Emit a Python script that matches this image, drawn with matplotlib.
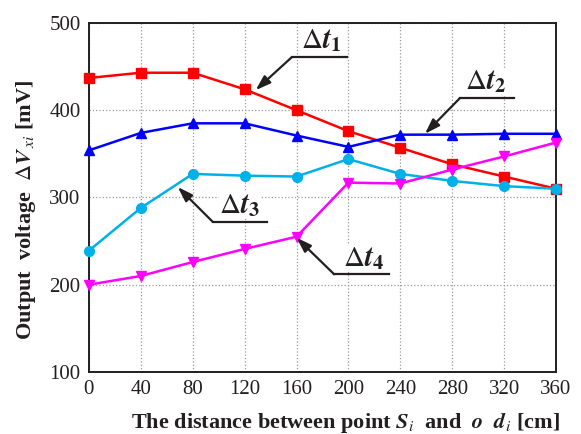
import numpy as np
import matplotlib
matplotlib.use("Agg")
import matplotlib.pyplot as plt

plt.rcParams['font.family'] = ['Liberation Serif', 'DejaVu Serif']
plt.rcParams['mathtext.fontset'] = 'stix'

# data
distance = [0, 40, 80, 120, 160, 200, 240, 280, 320, 360]
dt1 = [437, 443, 443, 424, 400, 376, 357, 338, 324, 310]
dt2 = [354, 374, 385, 385, 371, 358, 372, 372, 373, 373]
dt3 = [239, 288, 327, 325, 324, 344, 327, 319, 313, 310]
dt4 = [200, 210, 226, 241, 255, 317, 316, 332, 347, 363]

series = [
    (dt1, '#ff0000', 's'),
    (dt2, '#0000ff', '^'),
    (dt3, '#00b0e8', 'o'),
    (dt4, '#ff00ff', 'v'),
]

# (label, arrow tip, knee, end of horizontal line, text position)
notes = [
    (r'$\Delta\mathbfit{t}_{\mathbf{1}}$', (128.5, 423), (156.5, 461), (199, 461), (179, 476)),
    (r'$\Delta\mathbfit{t}_{\mathbf{2}}$', (259, 373), (286, 414), (328, 414), (306, 436)),
    (r'$\Delta\mathbfit{t}_{\mathbf{3}}$', (68.5, 312), (95.5, 272), (137, 272), (116, 293)),
    (r'$\Delta\mathbfit{t}_{\mathbf{4}}$', (160, 254), (189, 212), (231, 212), (212, 230)),
]

fig = plt.figure(figsize=(5.81, 4.34), dpi=100)
ax = fig.add_axes([0.153, 0.143, 0.804, 0.804])

for vals, col, mk in series:
    ax.plot(distance, vals, color=col, marker=mk, markersize=7, linewidth=1.8, clip_on=False, zorder=3)

for lab, tip, knee, end, txt in notes:
    ax.plot([knee[0], end[0]], [knee[1], end[1]], color='#231f20', linewidth=1.6, zorder=4)
    ax.annotate('', xy=tip, xytext=knee,
                arrowprops=dict(arrowstyle='-|>,head_length=0.9,head_width=0.3',
                                color='#231f20', linewidth=1.6, shrinkA=0, shrinkB=0), zorder=4)
    ax.text(txt[0], knee[1] + 3, lab, fontsize=21, ha='center', va='bottom', color='#231f20', zorder=5,
            bbox=dict(facecolor='white', edgecolor='none', pad=0))

ax.set_xlim(0, 360)
ax.set_ylim(100, 500)
ax.set_xticks(distance)
ax.set_yticks([100, 200, 300, 400, 500])
ax.grid(True, color='#999999', linestyle=':', linewidth=0.9)
ax.tick_params(axis='both', length=0, labelsize=15, pad=6, colors='#231f20')
for s in ax.spines.values():
    s.set_linewidth(1.4)
    s.set_color('#231f20')

ax.set_xlabel(r'The distance between point $\mathbfit{S}_{i}$  and  $\mathbfit{o}$  $\mathbfit{d}_{i}$ [cm]',
              fontsize=16, fontweight='bold', labelpad=8, color='#231f20')
ax.set_ylabel(r'Output  voltage  $\Delta\mathbfit{V}_{\,xi}$ [mV]',
              fontsize=16, fontweight='bold', labelpad=8, color='#231f20')
ax.xaxis.label.set_x(0.55)
ax.yaxis.label.set_y(0.465)

fig.savefig('out.png', dpi=100)
